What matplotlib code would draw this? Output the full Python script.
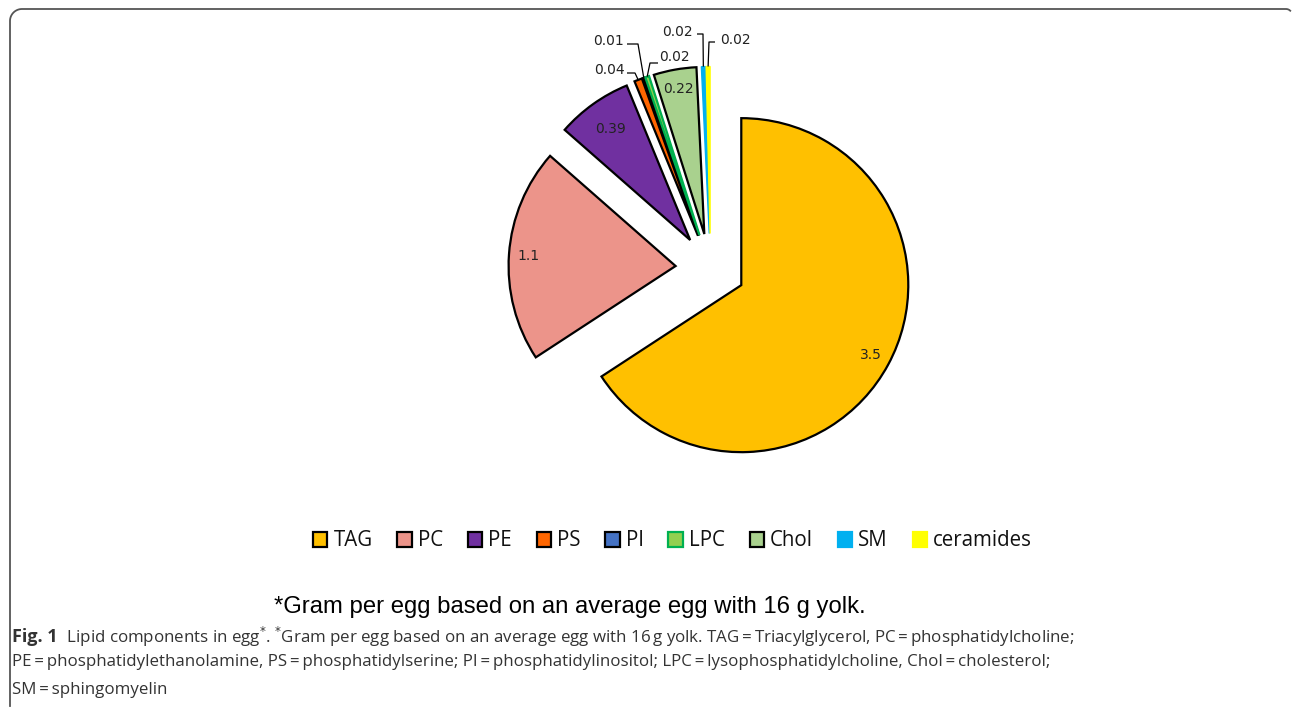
import matplotlib
matplotlib.use("Agg")
import matplotlib.pyplot as plt
from matplotlib.patches import Patch
from matplotlib.lines import Line2D
import numpy as np

# ---- data ----
categories = ["TAG", "PC", "PE", "PS", "PI", "LPC", "Chol", "SM", "ceramides"]
values = [3.5, 1.1, 0.39, 0.04, 0.01, 0.02, 0.22, 0.02, 0.02]
value_labels = ["3.5", "1.1", "0.39", "0.04", "0.01", "0.02", "0.22", "0.02", "0.02"]
face_colors = ["#FFC000", "#EC948A", "#7030A0", "#FF6600", "#4472C4",
               "#92D050", "#A9D18E", "#00B0F0", "#FFFF00"]
edge_colors = ["black", "black", "black", "black", "black",
               "#00B050", "black", "#00B0F0", "#FFFF00"]
inside_labels = {"TAG", "PC", "PE", "Chol"}

W, H = 1293, 711
fig = plt.figure(figsize=(W / 100, H / 100), dpi=100)

# pie axes: centre (710.5, 268.5) px, radius 167 px
R = 167.0
cx, cy = 710.5, 268.5
side = 3 * R
ax = fig.add_axes([(cx - side / 2) / W, 1 - (cy + side / 2) / H, side / W, side / H])

expl = 35 / R
wedges, _ = ax.pie(values, startangle=90, counterclock=False, radius=1.0,
                   explode=[expl] * len(values), colors=face_colors,
                   wedgeprops=dict(linewidth=1.6))
ax.set_xlim(-1.5, 1.5)
ax.set_ylim(-1.5, 1.5)
ax.set_aspect("equal")
ax.axis("off")
for w, ec, fc in zip(wedges, edge_colors, face_colors):
    w.set_edgecolor(ec)
    if ec == fc:
        w.set_linewidth(1.0)

def px2d(px, py):
    return ((px - cx) / R, (cy - py) / R)

# label layout for small slices: text centre (px), elbow points (px)
small_layout = {
    "PS": dict(text=(609, 70), elbow=[(627, 73), (635, 73)]),
    "PI": dict(text=(608, 41), elbow=[(627, 44), (638, 44)]),
    "LPC": dict(text=(674, 57), elbow=[(658, 63), (650, 63)]),
    "SM": dict(text=(677, 32), elbow=[(697, 34), (703, 34)]),
    "ceramides": dict(text=(735, 40), elbow=[(715, 42), (709, 42)]),
}

label_dist = {"TAG": 0.88, "PC": 0.88, "PE": 0.82, "Chol": 0.88}
lab_font = dict(family="DejaVu Sans", fontsize=10, color="#222222")
for w, cat, lab in zip(wedges, categories, value_labels):
    th = np.deg2rad((w.theta1 + w.theta2) / 2)
    ox, oy = w.center
    if cat in inside_labels:
        d = label_dist[cat]
        ax.text(ox + d * np.cos(th), oy + d * np.sin(th), lab,
                ha="center", va="center", **lab_font)
    else:
        L = small_layout[cat]
        tx, ty = px2d(*L["text"])
        ax.text(tx, ty, lab, ha="center", va="center", **lab_font)
        pts = [px2d(*p) for p in L["elbow"]]
        ex, ey = ox + np.cos(th), oy + np.sin(th)
        xs = [p[0] for p in pts] + [ex]
        ys = [p[1] for p in pts] + [ey]
        ax.plot(xs, ys, color="black", lw=0.9, solid_capstyle="butt", clip_on=False)

# legend
legend_edges = ["black", "black", "black", "black", "black",
                "#00B050", "black", "#00B0F0", "#FFFF00"]
handles = [Patch(facecolor=fc, edgecolor=ec, linewidth=1.6)
           for fc, ec in zip(face_colors, legend_edges)]
fig.legend(handles, categories, loc="center", ncol=len(categories),
           bbox_to_anchor=(672.5 / W, 1 - 541 / H), frameon=False,
           prop=dict(family="Open Sans", size=14.8), handlelength=0.7, handleheight=0.7,
           handletextpad=0.3, columnspacing=1.2, borderpad=0, labelcolor="#111111")

# footnote inside chart
fig.text(570 / W, 1 - 607 / H, "*Gram per egg based on an average egg with 16 g yolk.",
         ha="center", va="center", family="Liberation Sans", fontsize=17.2, color="black")

# caption
cap_col = "#333333"
cap_fs = 12.2
fam = ["Open Sans", "DejaVu Sans"]
eq = "\u2009=\u2009"
t1 = fig.text(12 / W, 1 - 637 / H, "Fig. 1", ha="left", va="center",
              family=fam, fontsize=cap_fs + 0.8, fontweight="bold", color=cap_col)
fig.canvas.draw()
plt.annotate("  Lipid components in egg$^{*}$. $^{*}$Gram per egg based on an average egg with 16\u2009g yolk. "
             f"TAG{eq}Triacylglycerol, PC{eq}phosphatidylcholine;",
             xy=(1, 0.5), xycoords=t1, ha="left", va="center",
             family=fam, fontsize=cap_fs, color=cap_col, annotation_clip=False)
fig.text(12 / W, 1 - 662 / H,
         f"PE{eq}phosphatidylethanolamine, PS{eq}phosphatidylserine; PI{eq}phosphatidylinositol; "
         f"LPC{eq}lysophosphatidylcholine, Chol{eq}cholesterol;",
         ha="left", va="center", family=fam, fontsize=cap_fs, color=cap_col)
fig.text(12 / W, 1 - 690 / H, f"SM{eq}sphingomyelin",
         ha="left", va="center", family=fam, fontsize=cap_fs, color=cap_col)

# rounded frame (open at bottom/right)
r = 12
fx = lambda px: px / W
fy = lambda py: 1 - py / H
ang = np.linspace(np.pi, np.pi / 2, 20)
arc_x = (10 + r) + r * np.cos(ang)
arc_y = (9 + r) - r * np.sin(ang)
xs = [10] + list(arc_x) + [1286]
ys = [706] + list(arc_y) + [9]
ang2 = np.linspace(np.pi / 2, np.pi / 4, 8)
xs += list(1286 + 6 * np.cos(ang2))
ys += list(15 - 6 * np.sin(ang2))
fig.add_artist(Line2D([fx(x) for x in xs], [fy(y) for y in ys],
                      color="#555555", lw=1.3, transform=fig.transFigure))

fig.savefig("out.png", dpi=100)
